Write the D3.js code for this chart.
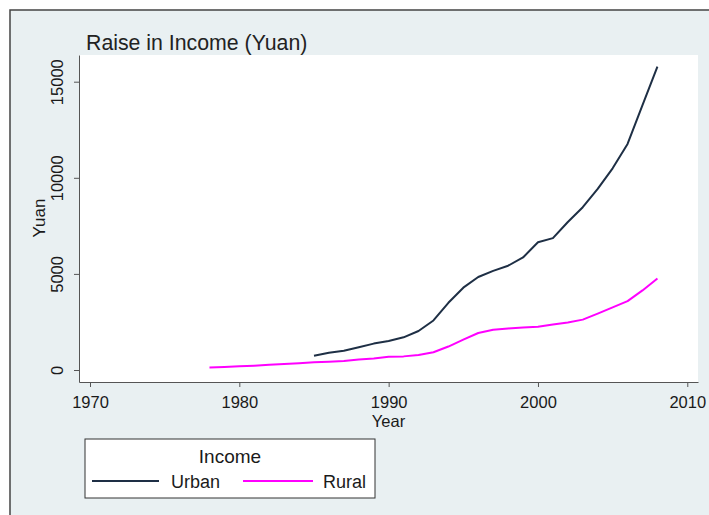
<!DOCTYPE html>
<html>
<head>
<meta charset="utf-8">
<script src="https://cdn.jsdelivr.net/npm/d3@7"></script>
<style>
  body { margin: 0; background: #ffffff; }
  svg { display: block; font-family: "Liberation Sans", Arial, sans-serif; }
</style>
</head>
<body>
<svg id="chart" width="709" height="515"></svg>
<script>
// ---- Data ----
const urbanYears = [1985,1986,1987,1988,1989,1990,1991,1992,1993,1994,1995,1996,1997,1998,1999,2000,2001,2002,2003,2004,2005,2006,2007,2008];
const urbanValues = [739,900,1002,1180,1374,1510,1701,2027,2577,3496,4283,4839,5160,5425,5854,6650,6860,7703,8472,9422,10493,11760,13786,15781];
const ruralYears = [1978,1979,1980,1981,1982,1983,1984,1985,1986,1987,1988,1989,1990,1991,1992,1993,1994,1995,1996,1997,1998,1999,2000,2001,2002,2003,2004,2005,2006,2007,2008];
const ruralValues = [134,160,191,223,270,310,355,398,424,463,545,602,686,709,784,922,1221,1578,1926,2090,2162,2210,2253,2366,2476,2622,2936,3255,3587,4140,4761];
const xTicks = [1970,1980,1990,2000,2010];
const yTicks = [0,5000,10000,15000];
const seriesNames = ["Urban","Rural"];
const seriesColors = ["#1e2f45","#ff00ff"];

const svg = d3.select("#chart");

// outer frame
svg.append("rect").attr("x",10).attr("y",10).attr("width",720).attr("height",520)
  .attr("fill","#e9f0f2").attr("stroke","#444").attr("stroke-width",1.5);

const x = d3.scaleLinear().domain([1969.263, 2010.717]).range([79, 698]);
const y = d3.scaleLinear().domain([-624, 16389]).range([382, 55]);

// plot region
svg.append("rect").attr("x",79).attr("y",55).attr("width",619).attr("height",327).attr("fill","#ffffff");

// axes
const xAxis = svg.append("g").attr("transform","translate(0,382)")
  .call(d3.axisBottom(x).tickValues(xTicks).tickFormat(d3.format("d")).tickSize(5).tickSizeOuter(0));
xAxis.selectAll("text").attr("y",26).attr("dy",null).attr("font-size",16.5).attr("fill","#1a1a1a");
xAxis.attr("font-family",null);

const yAxis = svg.append("g").attr("transform","translate(79,0)")
  .call(d3.axisLeft(y).tickValues(yTicks).tickFormat(d3.format("d")).tickSize(5).tickSizeOuter(0));
yAxis.selectAll("text").attr("x",null).attr("dy",null)
  .attr("transform","translate(-16,0) rotate(-90)").attr("text-anchor","middle")
  .attr("font-size",16.5).attr("fill","#1a1a1a");
yAxis.attr("font-family",null);

svg.selectAll(".domain, .tick line").attr("stroke","#555");

// axis titles
svg.append("text").attr("x",388.5).attr("y",427).attr("text-anchor","middle")
  .attr("font-size",16.5).attr("fill","#1a1a1a").text("Year");
svg.append("text").attr("transform","translate(45,218) rotate(-90)").attr("text-anchor","middle")
  .attr("font-size",17).attr("fill","#1a1a1a").text("Yuan");

// title
svg.append("text").attr("x",86).attr("y",50).attr("font-size",21.3).attr("fill","#222").text("Raise in Income (Yuan)");

// lines
const line = d3.line().x(d => x(d[0])).y(d => y(d[1]));
const urban = urbanYears.map((yr,i) => [yr, urbanValues[i]]);
const rural = ruralYears.map((yr,i) => [yr, ruralValues[i]]);
svg.append("path").datum(urban).attr("d",line).attr("fill","none").attr("stroke",seriesColors[0]).attr("stroke-width",2).attr("stroke-linejoin","round");
svg.append("path").datum(rural).attr("d",line).attr("fill","none").attr("stroke",seriesColors[1]).attr("stroke-width",2).attr("stroke-linejoin","round");

// legend
const lg = svg.append("g");
lg.append("rect").attr("x",85).attr("y",439).attr("width",290).attr("height",59).attr("fill","#ffffff").attr("stroke","#333").attr("stroke-width",1);
lg.append("text").attr("x",230).attr("y",463).attr("text-anchor","middle").attr("font-size",19).attr("fill","#1a1a1a").text("Income");
const legItems = [{x1:92,x2:159,tx:171},{x1:243,x2:313,tx:323}];
legItems.forEach((it,i) => {
  lg.append("line").attr("x1",it.x1).attr("x2",it.x2).attr("y1",481).attr("y2",481).attr("stroke",seriesColors[i]).attr("stroke-width",2);
  lg.append("text").attr("x",it.tx).attr("y",488).attr("font-size",18).attr("fill","#1a1a1a").text(seriesNames[i]);
});
</script>
</body>
</html>
